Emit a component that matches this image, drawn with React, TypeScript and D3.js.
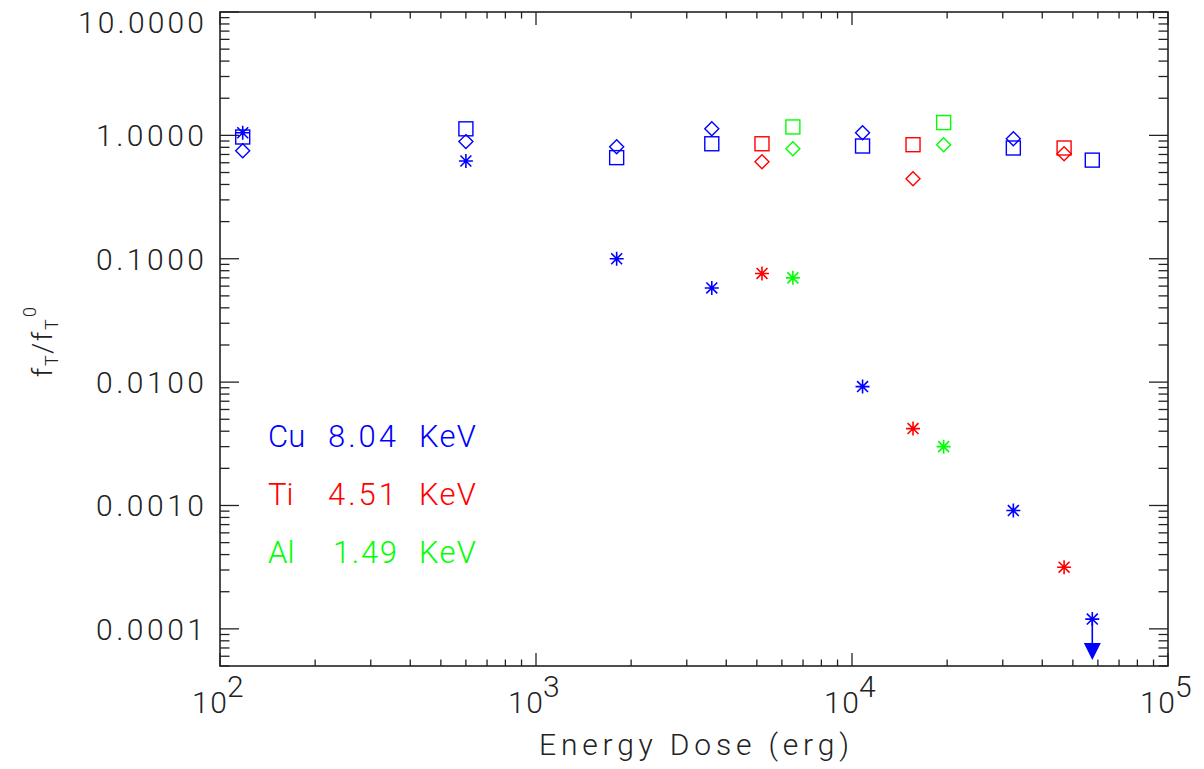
import React from "react";
import * as d3 from "d3";

// ---- Data ----
const cuDose = [118, 600, 1800, 3600, 10800, 32400, 57600];
const cuSquare = [0.97, 1.13, 0.66, 0.855, 0.82, 0.79, 0.63];
const cuDiamond = [0.75, 0.89, 0.81, 1.13, 1.05, 0.94, null];
const cuStar = [1.05, 0.62, 0.1, 0.058, 0.0092, 0.00091, 0.00012];

const tiDose = [5190, 15600, 46900];
const tiSquare = [0.855, 0.84, 0.79];
const tiDiamond = [0.61, 0.445, 0.71];
const tiStar = [0.076, 0.0042, 0.000316];

const alDose = [6500, 19500];
const alSquare = [1.17, 1.27];
const alDiamond = [0.78, 0.84];
const alStar = [0.07, 0.003];

const upperLimitIndex = 6; // Cu last star is an upper limit

const yTickValues = [0.0001, 0.001, 0.01, 0.1, 1, 10];
const yTickLabels = ["0.0001", "0.0010", "0.0100", "0.1000", "1.0000", "10.0000"];
const xTickValues = [100, 1000, 10000, 100000];
const xTickExps = ["2", "3", "4", "5"];

const legendNames = ["Cu", "Ti", "Al"];
const legendEnergies = ["8.04", "4.51", "1.49"];
const seriesColors = ["#0000ff", "#ff0000", "#00ff00"];

const L = 220, R = 1168, T = 12, B = 666;
const FONT = "Roboto, 'Liberation Sans', sans-serif";
const AXIS = "#222";

export default function App() {
  const x = d3.scaleLog().domain([100, 100000]).range([L, R]);
  const y = d3.scaleLog().domain([5.0e-5, 10]).range([B, T]);

  const minorX: number[] = [];
  for (let e = 2; e < 5; e++) for (let m = 2; m <= 9; m++) minorX.push(m * Math.pow(10, e));
  const minorY: number[] = [];
  for (let e = -5; e < 1; e++) for (let m = 2; m <= 9; m++) {
    const v = m * Math.pow(10, e);
    if (v >= 5.0e-5 && v <= 10) minorY.push(v);
  }

  const s = 7; // marker half-size
  const square = (cx: number, cy: number, c: string, k: string) => (
    <rect key={k} x={cx - s} y={cy - s} width={2 * s} height={2 * s} fill="none" stroke={c} strokeWidth={1.4} />
  );
  const diamond = (cx: number, cy: number, c: string, k: string) => (
    <path key={k} d={`M${cx},${cy - s}L${cx + s},${cy}L${cx},${cy + s}L${cx - s},${cy}Z`} fill="none" stroke={c} strokeWidth={1.4} />
  );
  const star = (cx: number, cy: number, c: string, k: string) => {
    const d = s * 0.78;
    return (
      <path key={k} d={`M${cx},${cy - s}V${cy + s}M${cx - s},${cy}H${cx + s}M${cx - d},${cy - d}L${cx + d},${cy + d}M${cx - d},${cy + d}L${cx + d},${cy - d}`} fill="none" stroke={c} strokeWidth={1.6} />
    );
  };

  const series = [
    { dose: cuDose, sq: cuSquare, di: cuDiamond, st: cuStar, color: seriesColors[0] },
    { dose: tiDose, sq: tiSquare, di: tiDiamond, st: tiStar, color: seriesColors[1] },
    { dose: alDose, sq: alSquare, di: alDiamond, st: alStar, color: seriesColors[2] },
  ];

  const marks: React.ReactNode[] = [];
  series.forEach((sr, si) => {
    sr.dose.forEach((dv, i) => {
      const cx = x(dv);
      if (sr.sq[i] != null) marks.push(square(cx, y(sr.sq[i] as number), sr.color, `sq${si}-${i}`));
      if (sr.di[i] != null) marks.push(diamond(cx, y(sr.di[i] as number), sr.color, `di${si}-${i}`));
      if (sr.st[i] != null) marks.push(star(cx, y(sr.st[i] as number), sr.color, `st${si}-${i}`));
    });
  });

  // upper-limit arrow
  const ax = x(cuDose[upperLimitIndex]);
  const ay = y(cuStar[upperLimitIndex]);
  const arrowEnd = B - 6;

  return (
    <svg width={1204} height={769} style={{ display: "block", position: "absolute", left: 0, top: 0, background: "#fff" }}>
      <rect x={0} y={0} width={1204} height={769} fill="#fff" />
      {/* ticks */}
      <g stroke={AXIS} strokeWidth={1.3}>
        {xTickValues.map((v, i) => (
          <g key={`xt${i}`}>
            <line x1={x(v)} x2={x(v)} y1={B} y2={B - 13} />
            <line x1={x(v)} x2={x(v)} y1={T} y2={T + 13} />
          </g>
        ))}
        {minorX.map((v, i) => (
          <g key={`xm${i}`}>
            <line x1={x(v)} x2={x(v)} y1={B} y2={B - 6.5} />
            <line x1={x(v)} x2={x(v)} y1={T} y2={T + 6.5} />
          </g>
        ))}
        {yTickValues.map((v, i) => (
          <g key={`yt${i}`}>
            <line x1={L} x2={L + 19} y1={y(v)} y2={y(v)} />
            <line x1={R} x2={R - 19} y1={y(v)} y2={y(v)} />
          </g>
        ))}
        {minorY.map((v, i) => (
          <g key={`ym${i}`}>
            <line x1={L} x2={L + 9.5} y1={y(v)} y2={y(v)} />
            <line x1={R} x2={R - 9.5} y1={y(v)} y2={y(v)} />
          </g>
        ))}
      </g>
      <rect x={L} y={T} width={R - L} height={B - T} fill="none" stroke={AXIS} strokeWidth={1.6} />

      {/* y tick labels */}
      {yTickValues.map((v, i) => (
        <text key={`yl${i}`} x={204} y={Math.max(y(v) + 11, 33)} textAnchor="end" fontFamily={FONT} fontWeight={300}
          fontSize={30} fill="#222" textLength={yTickLabels[i].length * 18} lengthAdjust="spacing">
          {yTickLabels[i]}
        </text>
      ))}
      {/* x tick labels */}
      {xTickValues.map((v, i) => (
        <g key={`xl${i}`}>
          <text x={x(v) - 28} y={713} fontFamily={FONT} fontWeight={300} fontSize={30} fill="#222"
            textLength={35} lengthAdjust="spacing">10</text>
          <text x={x(v) + 7} y={697} fontFamily={FONT} fontWeight={300} fontSize={30} fill="#222">{xTickExps[i]}</text>
        </g>
      ))}
      {/* axis titles */}
      <text x={(L + R) / 2} y={755} textAnchor="middle" fontFamily={FONT} fontWeight={300} fontSize={30} fill="#222"
        textLength={310} lengthAdjust="spacing">Energy Dose (erg)</text>
      <g transform="translate(52,377) rotate(-90)" fontFamily={FONT} fontWeight={300} fill="#222">
        <text x={0} y={0} fontSize={28}>f</text>
        <text x={11} y={6} fontSize={18}>T</text>
        <text x={23} y={0} fontSize={28}>/</text>
        <text x={36} y={0} fontSize={28}>f</text>
        <text x={47} y={6} fontSize={18}>T</text>
        <text x={60} y={-16} fontSize={18}>0</text>
      </g>

      {/* legend */}
      {legendNames.map((n, i) => (
        <g key={`lg${i}`} fontFamily={FONT} fontWeight={300} fontSize={31} fill={seriesColors[i]}>
          <text x={268} y={447 + i * 58}>{n}</text>
          <text x={i === 2 ? 333 : 328} y={447 + i * 58} textLength={i === 2 ? 64 : 68} lengthAdjust="spacing">{legendEnergies[i]}</text>
          <text x={419} y={447 + i * 58} textLength={57} lengthAdjust="spacing">KeV</text>
        </g>
      ))}

      {marks}

      {/* upper limit arrow */}
      <line x1={ax} x2={ax} y1={ay} y2={arrowEnd - 14} stroke={seriesColors[0]} strokeWidth={1.6} />
      <path d={`M${ax - 8.5},${arrowEnd - 17}L${ax + 8.5},${arrowEnd - 17}L${ax},${arrowEnd}Z`} fill={seriesColors[0]} />
    </svg>
  );
}
